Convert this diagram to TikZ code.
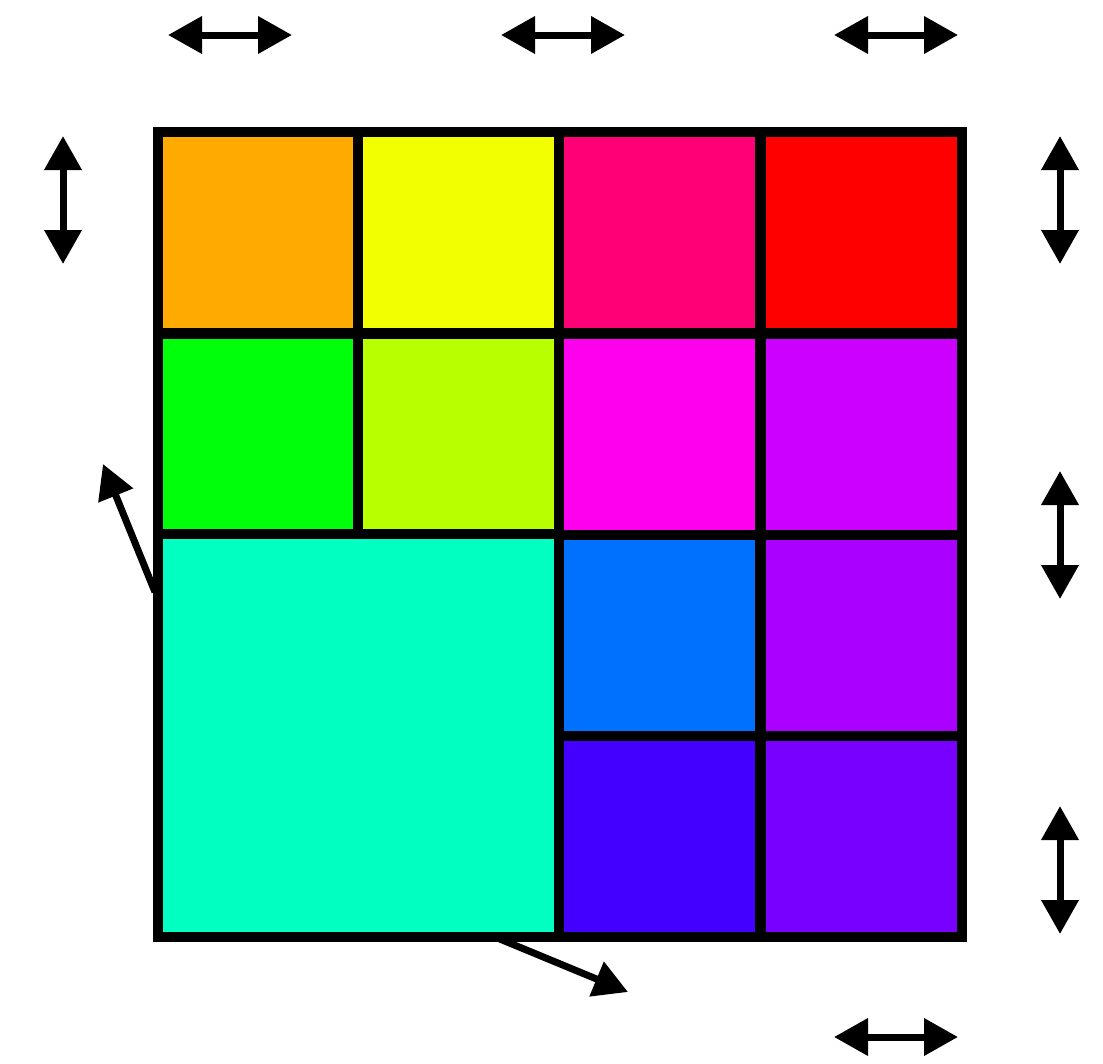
\documentclass[tikz,border=0pt]{standalone}
\usetikzlibrary{arrows.meta}
\definecolor{cA}{HTML}{FFAA00}
\definecolor{cB}{HTML}{F2FF00}
\definecolor{cC}{HTML}{FF0077}
\definecolor{cD}{HTML}{FF0000}
\definecolor{cE}{HTML}{00FF0A}
\definecolor{cF}{HTML}{B8FF00}
\definecolor{cG}{HTML}{FF00EE}
\definecolor{cH}{HTML}{CC00FF}
\definecolor{cI}{HTML}{00FFC0}
\definecolor{cJ}{HTML}{0070FF}
\definecolor{cK}{HTML}{AA00FF}
\definecolor{cL}{HTML}{4400FF}
\definecolor{cM}{HTML}{7700FF}
\begin{document}
\begin{tikzpicture}[x=1pt,y=-1pt,
  cell/.style={draw=black,line width=10pt,minimum width=201pt,minimum height=201pt,inner sep=0pt,outer sep=0pt},
  bigcell/.style={cell,minimum width=401pt,minimum height=403pt},
  dbl/.style={line width=7pt,{Triangle[length=34pt,width=36pt]}-{Triangle[length=34pt,width=36pt]}},
  sgl/.style={line width=7pt,-{Triangle[length=34pt,width=36pt]}}]
\useasboundingbox (0,0) rectangle (1103,1063);
% row 1
\node[cell,fill=cA] (a) at (258,232) {};
\node[cell,fill=cB] (b) at (458,232) {};
\node[cell,fill=cC] (c) at (659,232) {};
\node[cell,fill=cD] (d) at (861,232) {};
% row 2
\node[cell,fill=cE] (e) at (258,434) {};
\node[cell,fill=cF] (f) at (458,434) {};
\node[cell,fill=cG] (g) at (659,434) {};
\node[cell,fill=cH] (h) at (861,434) {};
% rows 3-4
\node[bigcell,fill=cI] (i) at (358,735.5) {};
\node[cell,fill=cJ] (j) at (659,635) {};
\node[cell,fill=cK] (k) at (861,635) {};
\node[cell,fill=cL] (l) at (659,836) {};
\node[cell,fill=cM] (m) at (861,836) {};
% double arrows
\coordinate (t1a) at (168,35); \coordinate (t1b) at (292,35);
\coordinate (t2a) at (501,35); \coordinate (t2b) at (625,35);
\coordinate (t3a) at (834,35); \coordinate (t3b) at (958,35);
\coordinate (b1a) at (834,1037); \coordinate (b1b) at (958,1037);
\coordinate (l1a) at (63,136); \coordinate (l1b) at (63,264);
\coordinate (r1a) at (1060,136); \coordinate (r1b) at (1060,264);
\coordinate (r2a) at (1060,471); \coordinate (r2b) at (1060,599);
\coordinate (r3a) at (1060,806); \coordinate (r3b) at (1060,934);
\draw[dbl] (t1a) -- (t1b);
\draw[dbl] (t2a) -- (t2b);
\draw[dbl] (t3a) -- (t3b);
\draw[dbl] (b1a) -- (b1b);
\draw[dbl] (l1a) -- (l1b);
\draw[dbl] (r1a) -- (r1b);
\draw[dbl] (r2a) -- (r2b);
\draw[dbl] (r3a) -- (r3b);
% diagonal arrows
\coordinate (d1s) at (155,592); \coordinate (d1e) at (103,464);
\coordinate (d2s) at (495,937); \coordinate (d2e) at (628,992);
\draw[sgl] (d1s) -- (d1e);
\draw[sgl] (d2s) -- (d2e);
\end{tikzpicture}
\end{document}
